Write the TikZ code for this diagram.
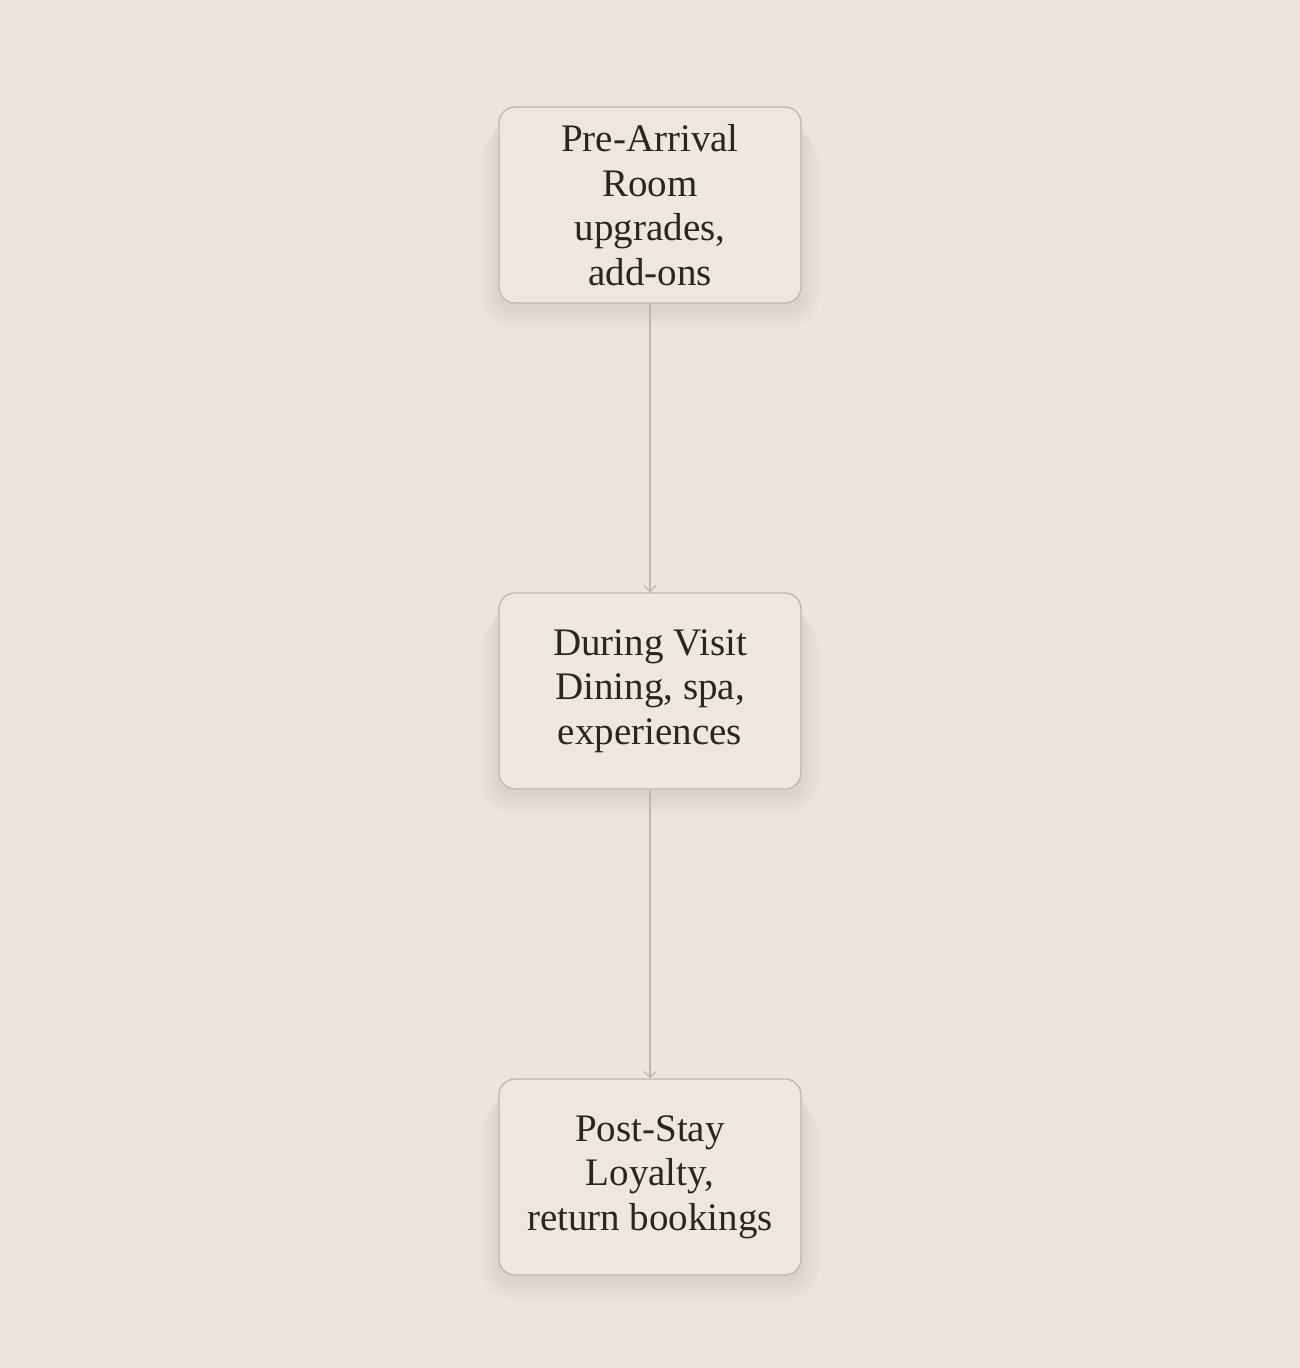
\documentclass[tikz,border=0pt]{standalone}
\usepackage{fontspec}
\setmainfont{Liberation Serif}
\usetikzlibrary{arrows.meta,backgrounds,calc}
\definecolor{bgc}{HTML}{EDE5DC}
\definecolor{boxfill}{HTML}{EEE7DE}
\definecolor{boxedge}{HTML}{BFB7AD}
\definecolor{txt}{HTML}{2A2520}
\definecolor{linec}{HTML}{BDB6AD}
\definecolor{shadowc}{HTML}{8A7560}
\tikzset{
  stage/.style={draw=boxedge, line width=1.3pt, fill=boxfill, rounded corners=16pt,
    minimum width=302pt, minimum height=196pt, align=center, text=txt,
    font=\fontsize{39pt}{44.5pt}\selectfont, inner sep=0pt},
  flow/.style={draw=linec, line width=1.3pt, -{Straight Barb[length=6pt,width=12pt,line width=1.3pt]}},
  softshadow/.style={fill=shadowc, fill opacity=0.011, draw=none}
}
\newcommand{\boxshadow}[1]{%
  \foreach \s in {0,3,...,24}{%
    \fill[softshadow, rounded corners=16pt+\s*0.8pt]
      ($(#1.north west)+(-\s*0.8,\s*0.8+6)$) rectangle ($(#1.south east)+(\s*0.8,\s*0.8+6)$);
  }}
\begin{document}
\begin{tikzpicture}[x=1pt,y=-1pt]
\useasboundingbox (0,0) rectangle (1300,1368);
\node[stage] (a) at (650,205) {Pre-Arrival\\Room\\upgrades,\\add-ons};
\node[stage] (b) at (650,691) {During Visit\\Dining, spa,\\experiences};
\node[stage] (c) at (650,1177) {Post-Stay\\Loyalty,\\return bookings};
\begin{scope}[on background layer]
\fill[bgc] (0,0) rectangle (1300,1368);
\boxshadow{a}\boxshadow{b}\boxshadow{c}
\end{scope}
\draw[flow] (a) -- (b);
\draw[flow] (b) -- (c);
\end{tikzpicture}
\end{document}
